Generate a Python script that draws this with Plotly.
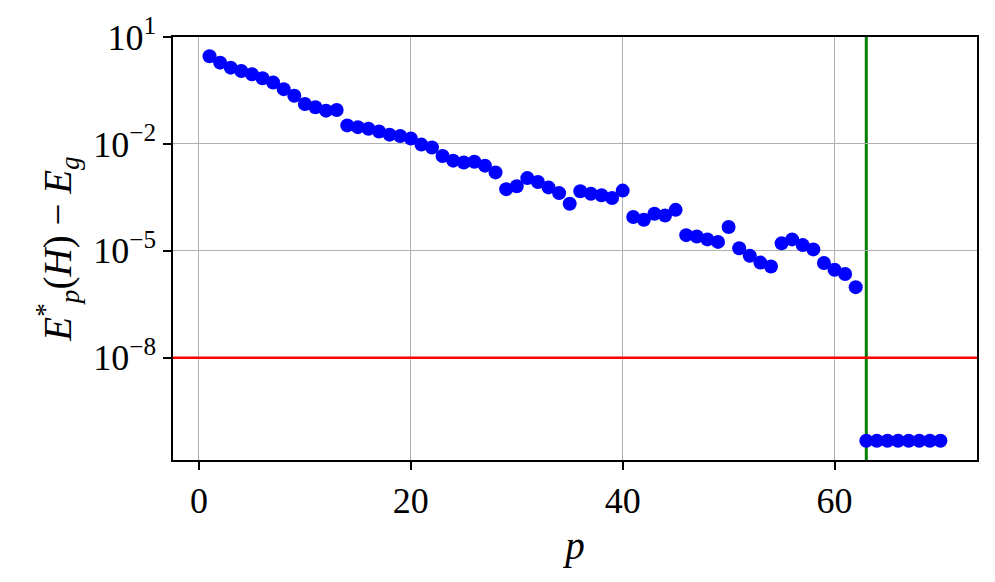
import numpy as np
import plotly.graph_objects as go

p = list(range(1, 71))
log_gap = [
    0.46, 0.28, 0.14, 0.045, -0.047, -0.158, -0.278, -0.464, -0.65, -0.88,
    -0.97, -1.067, -1.05, -1.48, -1.53, -1.575, -1.65, -1.74, -1.78, -1.85,
    -2.02, -2.10, -2.34, -2.47, -2.52, -2.50, -2.61, -2.80, -3.27, -3.19,
    -2.96, -3.07, -3.22, -3.38, -3.68, -3.33, -3.40, -3.44, -3.52, -3.31,
    -4.05, -4.13, -3.96, -4.01, -3.85, -4.56, -4.60, -4.68, -4.75, -4.33,
    -4.93, -5.14, -5.33, -5.44, -4.79, -4.68, -4.84, -4.96, -5.34, -5.53,
    -5.65, -6.02, -10.33, -10.33, -10.33, -10.33, -10.33, -10.33, -10.33, -10.33,
]
gap = [10 ** v for v in log_gap]

threshold = 1e-8
p_cut = 63

ytick_vals = [1e1, 1e-2, 1e-5, 1e-8]
ytick_text = ["10<sup>1</sup>", "10<sup>−2</sup>", "10<sup>−5</sup>", "10<sup>−8</sup>"]
xtick_vals = [0, 20, 40, 60]

FONT = "Liberation Serif"
TICK_SIZE = 36
TITLE_SIZE = 39

fig = go.Figure()
fig.add_trace(go.Scatter(
    x=p, y=gap, mode="markers",
    marker=dict(color="#0000ff", size=14, line=dict(width=0)),
    showlegend=False, hoverinfo="skip",
))

fig.add_hline(y=threshold, line=dict(color="#ff0000", width=2.6), opacity=1, layer="above")
fig.add_vline(x=p_cut, line=dict(color="#008000", width=3), opacity=1, layer="below")

fig.update_layout(
    width=995, height=582,
    margin=dict(l=173, r=18, t=32, b=122),
    paper_bgcolor="white", plot_bgcolor="white",
    font=dict(family=FONT, color="black", size=TICK_SIZE),
    showlegend=False,
)
fig.update_xaxes(
    range=[-2.45, 73.45], tickvals=xtick_vals,
    showgrid=True, gridcolor="#b0b0b0", gridwidth=1.2,
    showline=True, linecolor="black", linewidth=1.6, mirror=True,
    ticks="outside", ticklen=8, tickwidth=1.6, tickcolor="black",
    tickfont=dict(size=TICK_SIZE, family=FONT),
    zeroline=False,
    title=dict(text="<i>p</i>", font=dict(size=TITLE_SIZE, family=FONT), standoff=12),
)
fig.update_yaxes(
    type="log", range=[-10.87, 1.0], tickvals=ytick_vals, ticktext=ytick_text,
    showgrid=True, gridcolor="#b0b0b0", gridwidth=1.2,
    showline=True, linecolor="black", linewidth=1.6, mirror=True,
    ticks="outside", ticklen=8, tickwidth=1.6, tickcolor="black",
    tickfont=dict(size=TICK_SIZE, family=FONT),
    zeroline=False,
    title=dict(text="<i>E</i><sup>*</sup><sub><i>p</i></sub>(<i>H</i>) − <i>E</i><sub><i>g</i></sub>",
               font=dict(size=TITLE_SIZE, family=FONT), standoff=10),
)

fig.write_html("out.html", config={"displayModeBar": False},
               post_script="document.body.style.margin='0';document.body.style.overflow='hidden';")
